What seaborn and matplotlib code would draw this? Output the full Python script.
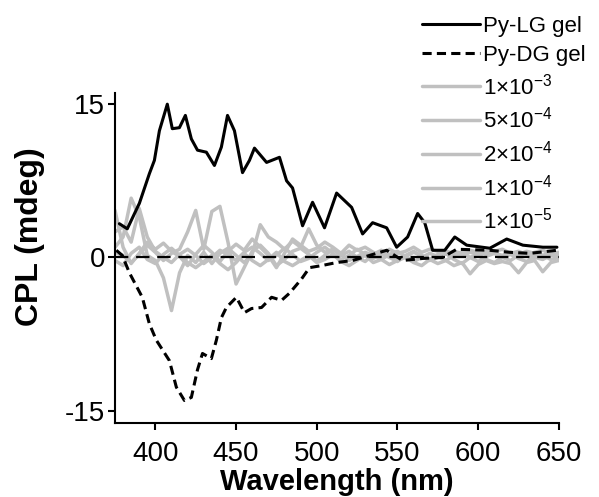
import matplotlib
matplotlib.use("Agg")
import matplotlib.pyplot as plt
import seaborn as sns
import pandas as pd

# --- data ---
lg_wl = [377.7, 382.6, 390.1, 396.3, 399.4, 402.5, 407.4, 410.5, 414.9, 418.6, 422.3, 426.1,
         431.6, 436.6, 440.9, 444.7, 449.0, 454.0, 458.3, 461.4, 468.9, 476.9, 481.3, 485.0,
         491.2, 497.4, 504.8, 512.3, 521.6, 528.4, 534.6, 543.3, 549.5, 556.3, 562.5, 566.9,
         571.8, 579.3, 585.5, 592.9, 607.2, 617.7, 627.7, 640.1, 648.8]
lg_cpl = [3.3, 2.8, 5.3, 8.2, 9.5, 12.4, 15.0, 12.6, 12.7, 13.9, 11.6, 10.5,
          10.3, 9.0, 10.8, 13.9, 12.4, 8.3, 9.5, 10.7, 9.3, 9.8, 7.5, 6.8,
          3.1, 5.4, 2.9, 6.3, 4.9, 2.3, 3.4, 2.9, 1.0, 2.0, 4.3, 3.4,
          0.7, 0.7, 2.0, 1.2, 0.9, 1.8, 1.2, 1.0, 1.0]

dg_wl = [375.8, 379.5, 383.9, 391.9, 396.3, 400.6, 408.7, 413.0, 418.0, 422.3, 426.1, 429.2,
         434.7, 437.8, 440.9, 444.0, 450.2, 455.2, 459.6, 465.8, 472.0, 478.2, 483.1, 490.6,
         495.5, 503.0, 512.3, 522.2, 532.8, 543.3, 553.2, 565.6, 578.0, 586.7, 607.2, 619.6,
         632.0, 648.8]
dg_cpl = [0.7, 0.2, -1.5, -3.9, -6.5, -8.1, -10.1, -12.7, -14.0, -13.7, -11.0, -9.4,
          -9.9, -8.1, -5.9, -4.9, -3.9, -5.4, -5.0, -4.9, -3.9, -4.2, -3.5, -2.1,
          -1.0, -0.8, -0.5, -0.3, 0.2, 0.7, -0.3, -0.1, 0.0, 0.8, 0.7, 0.5,
          0.4, 0.7]

conc_wl = list(range(375, 651, 5))
conc_1e3 = [0.5, 0.2, -0.5, 0.3, 1.2, 0.5, -0.3, 0.4, 0.8, 2.5, 4.6, 0.8, 4.5, 5.0, 1.5, -2.6,
            -1.0, 0.6, 1.2, 0.4, -0.8, -0.2, 0.6, 0.9, 0.3, -0.4, 0.2, 0.8, 0.3, -0.3, 0.1, 0.5,
            0.2, -0.2, 0.3, 0.6, 0.1, -0.4, 0.0, 0.4, 0.1, -0.3, 0.2, 0.5, 0.0, -0.4, 0.1, 0.4,
            0.0, -0.3, 0.2, 0.4, 0.0, -0.2, 0.2, 0.1]
conc_5e4 = [1.0, 2.0, 5.8, 4.0, 0.2, -0.3, -2.0, -5.2, -1.5, 0.2, -0.5, 0.5, -0.6, 0.4, 0.9, 0.2,
            -0.5, 0.3, 3.2, 2.0, 1.5, 0.8, 1.6, 1.0, 2.8, 1.2, 0.5, 0.8, 0.2, 0.6, 0.0, -0.4,
            0.3, 0.7, 0.2, -0.3, 0.1, 0.5, 0.2, -0.2, 0.3, 0.6, 0.4, 0.2, 0.5, 0.3, 0.6, 0.4,
            0.2, 0.5, 0.3, 0.6, 0.4, 0.2, 0.5, 0.4]
conc_2e4 = [4.6, 1.0, -0.6, 0.4, 1.5, 0.8, 1.4, 0.6, 0.1, -0.8, 0.3, 1.2, 0.5, -0.4, 0.6, 1.3,
            0.7, 1.8, 1.0, 0.2, -1.0, 0.4, 1.8, 1.2, 0.6, 0.9, 1.5, 1.0, 0.4, 1.2, 0.7, 1.0,
            0.5, 0.2, 0.8, 0.4, 0.6, 1.0, 0.5, 0.8, 0.6, 0.3, 0.6, 0.4, 0.7, 0.5, 0.3, 0.6,
            0.8, 0.4, 0.6, 0.3, 0.5, 0.7, 0.4, 0.5]
conc_1e4 = [-0.3, -0.8, 0.4, 1.0, -0.2, -0.6, 0.3, 0.9, 0.2, -0.5, -1.0, -0.4, 0.2, -0.6, -1.2, -0.5,
            0.4, -0.3, -0.8, -0.2, 0.5, -0.4, -0.8, -0.3, 0.2, -0.5, -0.2, 0.3, -0.4, -0.8, -0.3, 0.2,
            -0.5, -0.2, -0.7, -0.3, 0.0, -0.5, -0.8, -0.2, -0.6, -0.3, -0.8, -0.5, -1.6, -0.7, -0.3, -0.6,
            -0.4, -0.6, -1.5, -0.5, -0.3, -1.4, -0.5, -0.3]
conc_1e5 = [2.5, 3.0, 1.5, 4.8, 2.0, 0.6, 0.0, -0.5, 0.3, 0.8, 0.2, -0.6, 0.0, 0.7, 0.3, -0.3,
            0.5, 1.0, 0.4, -0.3, 0.2, 0.9, 0.3, -0.4, -0.1, 0.5, 1.0, 0.4, -0.2, 0.2, 0.8, 0.3,
            -0.1, 0.4, 0.0, -0.4, 0.2, 0.6, 0.1, -0.3, 0.0, 0.4, -0.2, -0.6, 0.0, 0.3, -0.2, -0.5,
            0.0, 0.3, -0.1, -0.4, 0.1, 0.2, -0.2, 0.0]

conc_labels = ['1×10$^{-3}$', '5×10$^{-4}$', '2×10$^{-4}$', '1×10$^{-4}$', '1×10$^{-5}$']
conc_series = [conc_1e3, conc_5e4, conc_2e4, conc_1e4, conc_1e5]

# --- style ---
sns.set_style('ticks')
plt.rcParams['font.family'] = ['Liberation Sans', 'DejaVu Sans']
plt.rcParams['mathtext.default'] = 'regular'
plt.rcParams['axes.unicode_minus'] = False
plt.rcParams['text.color'] = 'black'
plt.rcParams['axes.labelcolor'] = 'black'

fig = plt.figure(figsize=(5.99, 4.97), dpi=100)
ax = fig.add_axes([0.192, 0.149, 0.741, 0.664])

gray = '#c0c0c0'
gray_lines = []
for lab, vals in zip(conc_labels, conc_series):
    df = pd.DataFrame({'wl': conc_wl, 'cpl': vals})
    sns.lineplot(data=df, x='wl', y='cpl', ax=ax, color=gray, lw=2.5, sort=False)
    gray_lines.append((ax.lines[-1], lab))

ax.axhline(0, color='black', lw=1.6, dashes=(6, 3.5), zorder=3)

sns.lineplot(x=dg_wl, y=dg_cpl, ax=ax, color='black', lw=2.2, linestyle=(0, (3.0, 1.7)), sort=False)
dg_line = ax.lines[-1]
dg_line.set_zorder(4)
sns.lineplot(x=lg_wl, y=lg_cpl, ax=ax, color='black', lw=2.2, sort=False)
lg_line = ax.lines[-1]
lg_line.set_zorder(4)

ax.set_xlim(375, 650)
ax.set_ylim(-16.2, 16.1)
ax.set_xticks([400, 450, 500, 550, 600, 650])
ax.set_yticks([-15, 0, 15])
ax.tick_params(labelsize=20, width=1.5, length=5, color='black', labelcolor='black')
ax.tick_params(axis='x', pad=8)
ax.tick_params(axis='y', pad=2)
for side in ['left', 'bottom']:
    ax.spines[side].set_linewidth(1.5)
    ax.spines[side].set_color('black')
sns.despine(ax=ax)

ax.set_xlabel('Wavelength (nm)', fontsize=21, fontweight='bold', labelpad=1)
ax.set_ylabel('CPL (mdeg)', fontsize=23, fontweight='bold')
ax.yaxis.set_label_coords(-0.158, 0.564)

handles = [lg_line, dg_line] + [h for h, _ in gray_lines]
labels = ['Py-LG gel', 'Py-DG gel'] + [l for _, l in gray_lines]
fig.legend(handles, labels, loc='upper right', bbox_to_anchor=(1.0, 0.995), frameon=False,
           fontsize=16, handlelength=2.6, handletextpad=0.15, labelspacing=0.35,
           borderaxespad=0.2)

fig.savefig('out.png', dpi=100)
